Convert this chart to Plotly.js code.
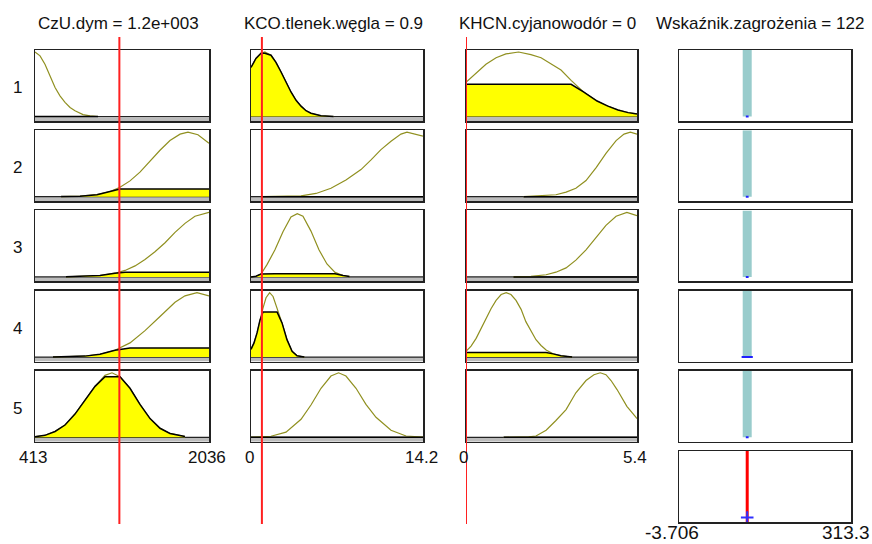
<!DOCTYPE html>
<html><head><meta charset="utf-8">
<script src="https://cdn.plot.ly/plotly-3.0.1.min.js"></script>
<style>html,body{margin:0;padding:0;background:#fff}#chart{width:872px;height:544px}</style>
</head><body><div id="chart"></div>
<script>
// ---------- data ----------
const colTitles = ["CzU.dym = 1.2e+003", "KCO.tlenek.węgla = 0.9", "KHCN.cyjanowodór = 0", "Wskaźnik.zagrożenia = 122"];
const rangeMin = [413, 0, 0, -3.706];
const rangeMax = [2036, 14.2, 5.4, 313.3];
const rangeMinLabels = ["413", "0", "0", "-3.706"];
const rangeMaxLabels = ["2036", "14.2", "5.4", "313.3"];
const ruleLabels = ["1", "2", "3", "4", "5"];
const inputValues = [1200, 0.9, 0];
const outputValue = 122;
const ruleOutputs = [122, 122, 122, 122, 122];
const ruleFiring = [0, 0, 0, 0.07, 0];

// membership degree of the current input in each rule's MF
const czuDegree = [0, 0.12, 0.07, 0.14, 0.94];
const kcoDegree = [0.98, 0, 0.05, 0.70, 0];
const khcnDegree = [0.50, 0, 0, 0.07, 0];

// CzU.dym membership functions
const czu1X = [413, 460, 506, 553, 600, 646, 693, 740, 786, 861, 926, 1001];
const czu1Y = [1.0, 0.94, 0.81, 0.64, 0.45, 0.32, 0.22, 0.14, 0.09, 0.03, 0.01, 0.0];
const czu2X = [656, 833, 991, 1113, 1206, 1299, 1392, 1486, 1579, 1672, 1766, 1840, 1933, 2036];
const czu2Y = [0.001, 0.008, 0.031, 0.079, 0.145, 0.245, 0.38, 0.55, 0.72, 0.87, 0.97, 1.0, 0.96, 0.83];
const czu3X = [702, 879, 1019, 1159, 1253, 1346, 1439, 1532, 1626, 1719, 1812, 1905, 2036];
const czu3Y = [0.001, 0.007, 0.021, 0.057, 0.10, 0.17, 0.27, 0.39, 0.53, 0.69, 0.83, 0.94, 1.0];
const czu4X = [581, 739, 879, 1019, 1159, 1299, 1439, 1579, 1719, 1812, 1924, 2036];
const czu4Y = [0.001, 0.004, 0.015, 0.043, 0.105, 0.22, 0.41, 0.63, 0.85, 0.95, 1.0, 0.95];
const czu5X = [413, 506, 600, 693, 786, 879, 973, 1066, 1131, 1206, 1299, 1392, 1486, 1579, 1672, 1812];
const czu5Y = [0.01, 0.03, 0.09, 0.19, 0.36, 0.57, 0.79, 0.96, 1.0, 0.94, 0.76, 0.51, 0.29, 0.14, 0.06, 0.011];

// KCO.tlenek.węgla membership functions
const kco1X = [0, 0.41, 0.83, 1.14, 1.65, 2.06, 2.48, 2.89, 3.30, 3.72, 4.13, 4.54, 4.95, 5.78, 6.82];
const kco1Y = [0.76, 0.90, 0.98, 1.0, 0.95, 0.84, 0.69, 0.53, 0.38, 0.25, 0.16, 0.09, 0.05, 0.011, 0.0];
const kco2X = [0.91, 2.48, 4.13, 5.37, 6.60, 7.84, 9.08, 9.91, 10.73, 11.56, 12.38, 12.88, 13.62, 14.2];
const kco2Y = [0.0, 0.002, 0.013, 0.05, 0.13, 0.26, 0.42, 0.57, 0.73, 0.86, 0.97, 1.0, 0.97, 0.94];
const kco3X = [0, 0.41, 0.83, 1.32, 1.98, 2.64, 3.30, 3.82, 4.29, 4.95, 5.61, 6.27, 6.94, 7.60, 8.14];
const kco3Y = [0.0, 0.01, 0.045, 0.19, 0.42, 0.70, 0.93, 0.98, 0.94, 0.71, 0.42, 0.2, 0.07, 0.02, 0.005];
const kco4X = [0, 0.25, 0.50, 0.74, 0.99, 1.24, 1.54, 1.82, 2.15, 2.56, 2.97, 3.39, 3.80, 4.40];
const kco4Y = [0.12, 0.22, 0.375, 0.57, 0.76, 0.92, 1.0, 0.94, 0.77, 0.53, 0.27, 0.09, 0.02, 0.0];
const kco5X = [0, 1.65, 2.89, 4.13, 4.95, 5.78, 6.60, 7.23, 7.84, 8.67, 9.49, 10.32, 11.56, 12.80, 14.2];
const kco5Y = [0.001, 0.016, 0.08, 0.28, 0.50, 0.76, 0.95, 1.0, 0.95, 0.76, 0.51, 0.31, 0.11, 0.02, 0.002];

// KHCN.cyjanowodór membership functions
const khcn1X = [0, 0.32, 0.63, 0.95, 1.26, 1.66, 2.05, 2.37, 2.68, 3.00, 3.32, 3.71, 4.14, 4.48, 4.80, 5.12, 5.40];
const khcn1Y = [0.53, 0.68, 0.81, 0.91, 0.97, 1.0, 0.96, 0.91, 0.82, 0.72, 0.56, 0.38, 0.24, 0.16, 0.10, 0.06, 0.04];
const khcn2X = [1.82, 2.37, 2.84, 3.16, 3.47, 3.79, 4.11, 4.42, 4.74, 4.99, 5.19, 5.40];
const khcn2Y = [0.0, 0.01, 0.03, 0.07, 0.13, 0.25, 0.45, 0.67, 0.87, 0.97, 1.0, 0.97];
const khcn3X = [1.50, 2.05, 2.53, 2.84, 3.16, 3.47, 3.79, 4.11, 4.42, 4.74, 5.08, 5.40];
const khcn3Y = [0.0, 0.008, 0.033, 0.073, 0.14, 0.26, 0.42, 0.61, 0.80, 0.94, 1.0, 0.95];
const khcn4X = [0, 0.16, 0.32, 0.47, 0.63, 0.79, 0.95, 1.11, 1.27, 1.42, 1.58, 1.74, 1.89, 2.05, 2.21, 2.37, 2.53, 2.75, 3.00, 3.35];
const khcn4Y = [0.09, 0.17, 0.29, 0.44, 0.60, 0.75, 0.88, 0.97, 1.0, 0.97, 0.88, 0.74, 0.55, 0.40, 0.27, 0.18, 0.11, 0.05, 0.02, 0.0];
const khcn5X = [1.19, 1.58, 1.98, 2.21, 2.53, 2.84, 3.16, 3.47, 3.79, 4.04, 4.24, 4.42, 4.58, 4.77, 5.08, 5.35, 5.40];
const khcn5Y = [0.0, 0.0, 0.005, 0.02, 0.11, 0.26, 0.43, 0.69, 0.88, 0.97, 1.0, 0.97, 0.88, 0.74, 0.48, 0.32, 0.29];

// ---------- assembly ----------
const inputMFs = [
  [[czu1X, czu1Y], [czu2X, czu2Y], [czu3X, czu3Y], [czu4X, czu4Y], [czu5X, czu5Y]],
  [[kco1X, kco1Y], [kco2X, kco2Y], [kco3X, kco3Y], [kco4X, kco4Y], [kco5X, kco5Y]],
  [[khcn1X, khcn1Y], [khcn2X, khcn2Y], [khcn3X, khcn3Y], [khcn4X, khcn4Y], [khcn5X, khcn5Y]]
];
const degrees = [czuDegree, kcoDegree, khcnDegree];

const W = 872, H = 544;
const colLeft = [35, 251, 466, 679], colRight = [209, 423, 637, 851];
const rowTop0 = 50, rowPitch = 80.2, rowH = 71;
const yLo = -0.07, yHi = 1.031;
const olive = '#909020';
const fontFam = '"Liberation Sans", Arial, sans-serif';

const traces = [];
const layout = {
  width: W, height: H, margin: {l: 0, r: 0, t: 0, b: 0},
  paper_bgcolor: '#ffffff', plot_bgcolor: '#ffffff',
  showlegend: false, hovermode: false,
  shapes: [], annotations: [],
  font: {family: fontFam, color: '#111', size: 17}
};
let n = 0;
function addAxes(c, r) {
  n++;
  const sfx = n === 1 ? '' : String(n);
  const xid = 'x' + sfx, yid = 'y' + sfx;
  const top = rowTop0 + r * rowPitch, bot = top + rowH;
  const common = {showgrid: false, zeroline: false, showticklabels: false, ticks: '',
                  showline: true, mirror: true, linecolor: '#222', linewidth: 1.5, fixedrange: true};
  layout['xaxis' + sfx] = Object.assign({domain: [colLeft[c] / W, colRight[c] / W],
    range: [rangeMin[c], rangeMax[c]], anchor: yid}, common);
  layout['yaxis' + sfx] = Object.assign({domain: [1 - bot / H, 1 - top / H],
    range: [yLo, yHi], anchor: xid}, common);
  return {xid, yid, top, bot};
}
function dom(id) { return id + ' domain'; }

// input columns
for (let c = 0; c < 3; c++) {
  for (let r = 0; r < 5; r++) {
    const ax = addAxes(c, r);
    const mx = inputMFs[c][r][0], my = inputMFs[c][r][1];
    const d = degrees[c][r];
    layout.shapes.push({type: 'rect', xref: dom(ax.xid), yref: ax.yid, x0: 0, x1: 1, y0: yLo, y1: 0,
      fillcolor: '#bcbcbc', line: {width: 0}, layer: 'below'});
    layout.shapes.push({type: 'line', xref: dom(ax.xid), yref: ax.yid, x0: 0, x1: 1, y0: 0, y1: 0,
      line: {color: '#222', width: 1.2}, layer: 'below'});
    traces.push({type: 'scatter', mode: 'lines', x: mx, y: my, xaxis: ax.xid, yaxis: ax.yid,
      line: {color: olive, width: 1.2}});
    traces.push({type: 'scatter', mode: 'lines', x: mx, y: my.map(v => Math.min(v, d)),
      xaxis: ax.xid, yaxis: ax.yid, fill: 'tozeroy', fillcolor: '#ffff00',
      line: {color: '#000', width: 1.5}});
    if (r === 0) {
      layout.shapes.push({type: 'line', xref: ax.xid, yref: 'paper', x0: inputValues[c], x1: inputValues[c],
        y0: 1 - 524 / H, y1: 1 - 37 / H, line: {color: '#ff2020', width: 2}, layer: 'above'});
      layout.annotations.push({xref: dom(ax.xid), yref: 'paper', x: 0.5, y: 1 - 24 / H, text: colTitles[c],
        showarrow: false, xanchor: 'center', yanchor: 'middle', xshift: -4, font: {size: 17}});
    }
    if (r === 4) {
      layout.annotations.push({xref: ax.xid, yref: 'paper', x: rangeMin[c], y: 1 - 457.5 / H, text: rangeMinLabels[c],
        showarrow: false, xanchor: 'center', yanchor: 'middle', xshift: -2, font: {size: 17}});
      layout.annotations.push({xref: ax.xid, yref: 'paper', x: rangeMax[c], y: 1 - 457.5 / H, text: rangeMaxLabels[c],
        showarrow: false, xanchor: 'center', yanchor: 'middle', xshift: -2, font: {size: 17}});
    }
    if (c === 0) {
      layout.annotations.push({xref: 'paper', yref: 'paper', x: 17 / W, y: 1 - (ax.top + rowH / 2 + 2) / H,
        text: ruleLabels[r], showarrow: false, xanchor: 'center', yanchor: 'middle', font: {size: 17}});
    }
  }
}

// output column
for (let r = 0; r < 5; r++) {
  const ax = addAxes(3, r);
  traces.push({type: 'scatter', mode: 'lines', x: [ruleOutputs[r], ruleOutputs[r]], y: [0, yHi],
    xaxis: ax.xid, yaxis: ax.yid, line: {color: '#99cccc', width: 9}});
  traces.push({type: 'scatter', mode: 'markers', x: [ruleOutputs[r]], y: [0], xaxis: ax.xid, yaxis: ax.yid,
    marker: {symbol: 'line-ew', size: ruleFiring[r] > 0 ? 8 : 2, color: '#0000ff', line: {color: '#2020ff', width: 2}}});
  if (r === 0) {
    layout.annotations.push({xref: dom(ax.xid), yref: 'paper', x: 0.5, y: 1 - 24 / H, text: colTitles[3],
      showarrow: false, xanchor: 'center', yanchor: 'middle', xshift: -5, font: {size: 17}});
  }
}
{
  const ax = addAxes(3, 5);
  traces.push({type: 'scatter', mode: 'lines', x: [outputValue, outputValue], y: [yLo, yHi],
    xaxis: ax.xid, yaxis: ax.yid, line: {color: '#ff0000', width: 3}});
  traces.push({type: 'scatter', mode: 'markers', x: [outputValue], y: [0], xaxis: ax.xid, yaxis: ax.yid,
    marker: {symbol: 'cross-thin', size: 9, color: '#3030ff', line: {color: '#3030ff', width: 2}}});
  layout.annotations.push({xref: ax.xid, yref: 'paper', x: rangeMin[3], y: 1 - 532 / H, text: rangeMinLabels[3],
    showarrow: false, xanchor: 'center', yanchor: 'middle', xshift: -7, font: {size: 19}});
  layout.annotations.push({xref: ax.xid, yref: 'paper', x: rangeMax[3], y: 1 - 532 / H, text: rangeMaxLabels[3],
    showarrow: false, xanchor: 'center', yanchor: 'middle', xshift: -5, font: {size: 19}});
}

Plotly.newPlot('chart', traces, layout, {staticPlot: true, displayModeBar: false});
</script></body></html>
